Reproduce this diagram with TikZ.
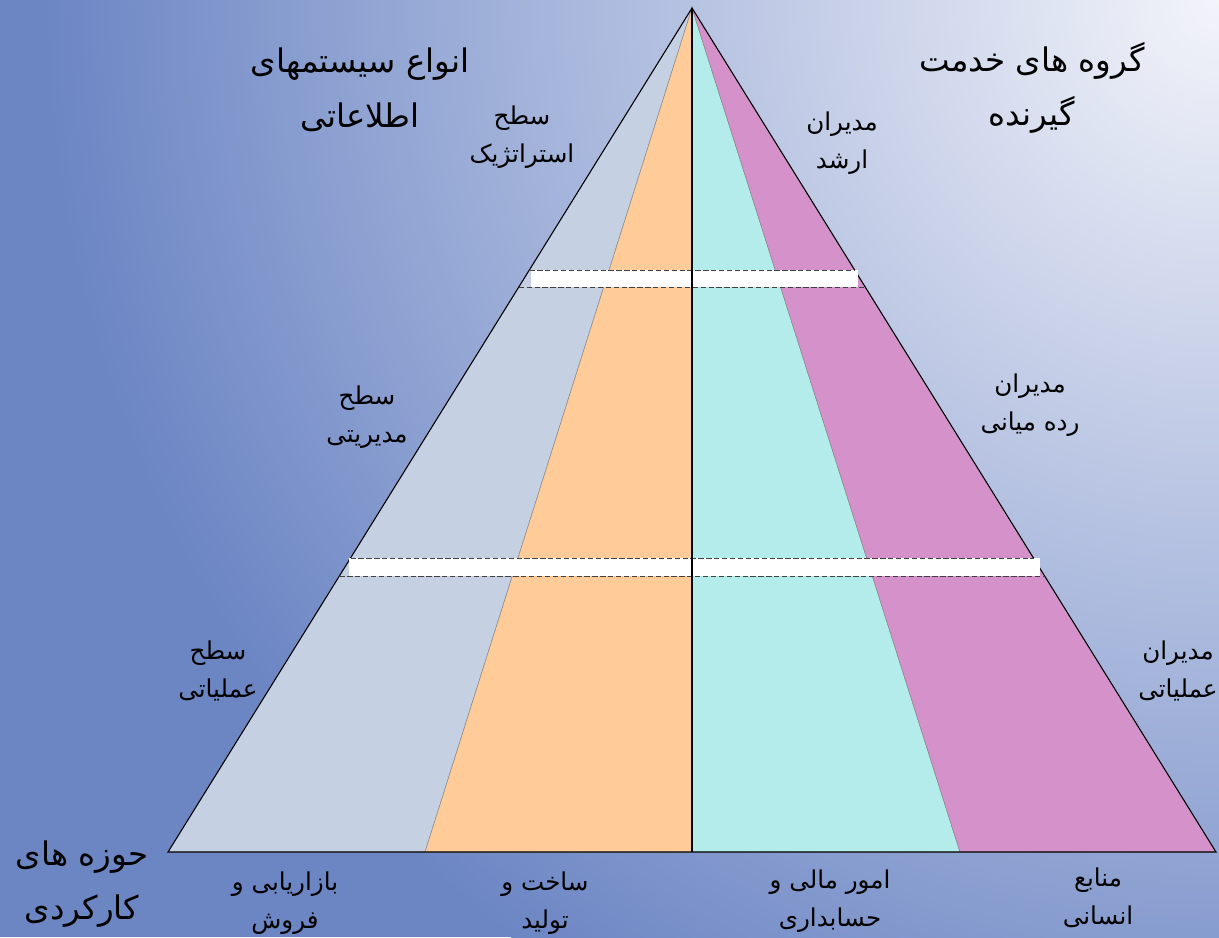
\documentclass[tikz,border=0pt]{standalone}
\usepackage{fontspec}
\usetikzlibrary{calc}
\TeXXeTstate=1
\newfontfamily\farsifont[Script=Arabic]{DejaVu Sans}
\newcommand{\fa}[1]{\beginR #1\endR}
\definecolor{bgblue}{RGB}{108,134,196}
\definecolor{bglight}{RGB}{243,244,250}
\definecolor{sidegray}{RGB}{197,208,227}
\definecolor{midorange}{RGB}{255,204,153}
\definecolor{midcyan}{RGB}{180,235,235}
\definecolor{sidepink}{RGB}{213,145,202}
\tikzset{
  lbl/.style={font=\farsifont\fontsize{14}{21.5}\selectfont, align=center, inner sep=0pt},
  head/.style={font=\farsifont\fontsize{18.5}{31}\selectfont, align=center, inner sep=0pt},
  band/.style={fill=white, draw=none},
  bandline/.style={draw=black!75, dash pattern=on 3pt off 1.5pt, line width=0.5pt},
  strip/.style={draw=black!45, line width=0.3pt},
  edge/.style={draw=black, line width=0.6pt}
}

\begin{document}
\begin{tikzpicture}[x=0.02cm,y=-0.02cm]
	\useasboundingbox (0,0) rectangle (1219,937);
	\begin{scope}
	\clip (0,0) rectangle (1219,937);
	\fill[bgblue] (0,0) rectangle (1219,937);
	\shade[inner color=bglight, outer color=bgblue] (1219,0) circle (23.5cm);
	\end{scope}
	\coordinate (apex) at (692,8);
	\coordinate (bl) at (168,852);
	\coordinate (bo) at (425,852);
	\coordinate (bm) at (692,852);
	\coordinate (bc) at (960,852);
	\coordinate (br) at (1216,852);
	\fill[sidegray, strip] (apex) -- (bl) -- (bo) -- cycle;
	\fill[midorange, strip] (apex) -- (bo) -- (bm) -- cycle;
	\fill[midcyan, strip] (apex) -- (bm) -- (bc) -- cycle;
	\fill[sidepink, strip] (apex) -- (bc) -- (br) -- cycle;
	\draw[edge] (bl) -- (apex) -- (br) -- cycle;
	\fill[band] (531,270) rectangle (858,287);
	\fill[band] (349,558) rectangle (1040,576);
	\draw[bandline] ($(apex)!0.3104!(bl)$) -- ($(apex)!0.3104!(br)$);
	\draw[bandline] ($(apex)!0.3306!(bl)$) -- ($(apex)!0.3306!(br)$);
	\draw[bandline] ($(apex)!0.6517!(bl)$) -- ($(apex)!0.6517!(br)$);
	\draw[bandline] ($(apex)!0.6730!(bl)$) -- ($(apex)!0.6730!(br)$);
	\draw[edge] (apex) -- (bm);

	\node[head] (types) at (360,90) {\fa{انواع سیستمهای}\\\fa{اطلاعاتی}};
	\node[head] (users) at (1032,88) {\fa{گروه های خدمت}\\\fa{گیرنده}};
	\node[head] (areas) at (82,884) {\fa{حوزه های}\\\fa{کارکردی}};

	\node[lbl] (strat) at (522,137) {\fa{سطح}\\\fa{استراتژیک}};
	\node[lbl] (manag) at (367,417) {\fa{سطح}\\\fa{مدیریتی}};
	\node[lbl] (oper) at (218,671) {\fa{سطح}\\\fa{عملیاتی}};

	\node[lbl] (senior) at (842,143) {\fa{مدیران}\\\fa{ارشد}};
	\node[lbl] (middle) at (1030,405) {\fa{مدیران}\\\fa{رده میانی}};
	\node[lbl] (opmgr) at (1178,671) {\fa{مدیران}\\\fa{عملیاتی}};

	\node[lbl] (market) at (285,903) {\fa{بازاریابی و}\\\fa{فروش}};
	\node[lbl] (prod) at (545,903) {\fa{ساخت و}\\\fa{تولید}};
	\node[lbl] (finance) at (830,901) {\fa{امور مالی و}\\\fa{حسابداری}};
	\node[lbl] (hr) at (1098,898) {\fa{منابع}\\\fa{انسانی}};
\end{tikzpicture}
\end{document}
